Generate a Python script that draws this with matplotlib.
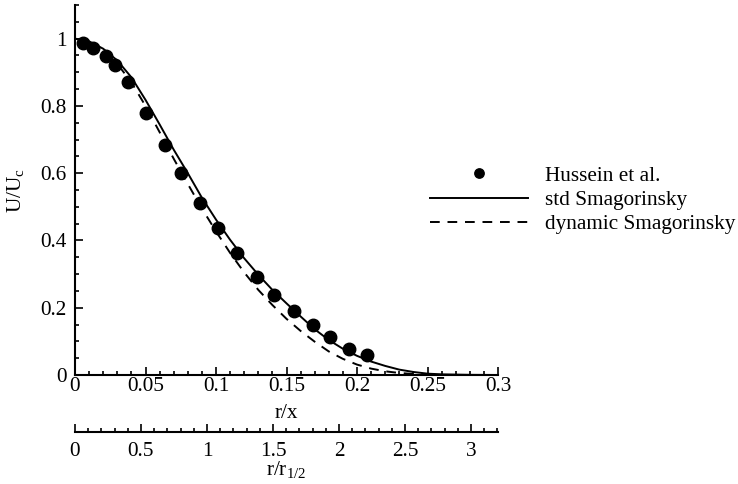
import matplotlib
matplotlib.use("Agg")
import matplotlib.pyplot as plt
from matplotlib.ticker import MultipleLocator

plt.rcParams['font.family'] = ['Liberation Serif', 'DejaVu Serif']
plt.rcParams['mathtext.fontset'] = 'custom'
plt.rcParams['mathtext.rm'] = 'Liberation Serif'
plt.rcParams['mathtext.it'] = 'Liberation Serif:italic'

# Experimental data (Hussein et al.)
exp_r = [0.0057, 0.0128, 0.022, 0.0284, 0.0376, 0.0504, 0.0638, 0.0752, 0.0887,
         0.1014, 0.1149, 0.129, 0.141, 0.155, 0.169, 0.181, 0.194, 0.207]
exp_u = [0.988, 0.973, 0.949, 0.923, 0.872, 0.780, 0.685, 0.601, 0.512,
         0.4375, 0.363, 0.292, 0.238, 0.190, 0.149, 0.113, 0.077, 0.058]

# Simulation curves
sim_r = [0.0, 0.01, 0.02, 0.03, 0.04, 0.05, 0.06, 0.07, 0.08, 0.09, 0.10, 0.11,
         0.12, 0.13, 0.14, 0.15, 0.16, 0.17, 0.18, 0.19, 0.20, 0.21, 0.22, 0.23,
         0.24, 0.25, 0.26, 0.28, 0.30]
std_u = [1.0, 0.992, 0.970, 0.935, 0.885, 0.818, 0.745, 0.670, 0.600, 0.527, 0.462,
         0.402, 0.347, 0.298, 0.253, 0.213, 0.174, 0.136, 0.104, 0.078, 0.057, 0.040,
         0.027, 0.016, 0.009, 0.004, 0.002, 0.0005, 0.0]
dyn_u = [1.0, 0.990, 0.965, 0.925, 0.870, 0.800, 0.722, 0.643, 0.568, 0.495, 0.427,
         0.363, 0.305, 0.253, 0.208, 0.167, 0.131, 0.099, 0.070, 0.048, 0.031, 0.019,
         0.011, 0.006, 0.003, 0.001, 0.0, 0.0, 0.0]

legend_labels = ["Hussein et al.", "std Smagorinsky", "dynamic Smagorinsky"]

FS = 15.3
W, H = 738, 484
fig = plt.figure(figsize=(W / 100, H / 100), dpi=100)

L, R = 75 / W, 498 / W
ax = fig.add_axes([L, 1 - 375 / H, R - L, (375 - 5) / H])

ax.plot(exp_r, exp_u, 'o', color='black', markersize=9, label=legend_labels[0],
        zorder=3)
ax.plot(sim_r, std_u, '-', color='black', lw=1.4, label=legend_labels[1])
ax.plot(sim_r, dyn_u, '--', color='black', lw=1.4, dashes=(5, 4),
        label=legend_labels[2])

ax.set_xlim(0, 0.3)
ax.set_ylim(0, 1.1)
for s in ('top', 'right'):
    ax.spines[s].set_visible(False)
for s in ('left', 'bottom'):
    ax.spines[s].set_linewidth(1.5)

ax.xaxis.set_minor_locator(MultipleLocator(0.01))
ax.yaxis.set_minor_locator(MultipleLocator(0.05))
ax.set_xticks([0, 0.05, 0.1, 0.15, 0.2, 0.25, 0.3])
ax.set_xticklabels(['0', '0.05', '0.1', '0.15', '0.2', '0.25', '0.3'])
ax.set_yticks([0, 0.2, 0.4, 0.6, 0.8, 1.0])
ax.set_yticklabels(['0', '0.2', '0.4', '0.6', '0.8', '1'])
ax.tick_params(which='both', direction='in', labelsize=FS, width=1.2)
ax.tick_params(which='major', length=6)
ax.tick_params(which='minor', length=3)
ax.tick_params(axis='x', pad=1.5)
ax.tick_params(axis='y', pad=6)

ax.set_xlabel('r/x', fontsize=FS, labelpad=6)
ax.set_ylabel(r'U/U$_\mathregular{c}$', fontsize=FS, labelpad=10)

leg = ax.legend(loc='upper left', bbox_to_anchor=(430 / W, 1 - 166 / H),
                bbox_transform=fig.transFigure, frameon=False, fontsize=FS,
                handlelength=4.6, handletextpad=0.8, labelspacing=0.2,
                borderpad=0, borderaxespad=0, markerscale=0.75)

# Secondary axis r/r_1/2
ax2 = fig.add_axes([L, 1 - 432 / H, R - L, 0.0001])
ax2.set_xlim(0, 3.205)
ax2.set_yticks([])
for s in ('top', 'right', 'left'):
    ax2.spines[s].set_visible(False)
ax2.spines['bottom'].set_linewidth(1.5)
ax2.patch.set_visible(False)
ax2.set_xticks([0, 0.5, 1, 1.5, 2, 2.5, 3])
ax2.set_xticklabels(['0', '0.5', '1', '1.5', '2', '2.5', '3'])
ax2.xaxis.set_minor_locator(MultipleLocator(0.1))
ax2.tick_params(which='both', direction='in', labelsize=FS, width=1.2)
ax2.tick_params(which='major', length=6, pad=7)
ax2.tick_params(which='minor', length=3)
ax2.set_xlabel(r'r/r$_\mathregular{1/2}$', fontsize=FS, labelpad=-1)

fig.savefig('out.png', dpi=100)
